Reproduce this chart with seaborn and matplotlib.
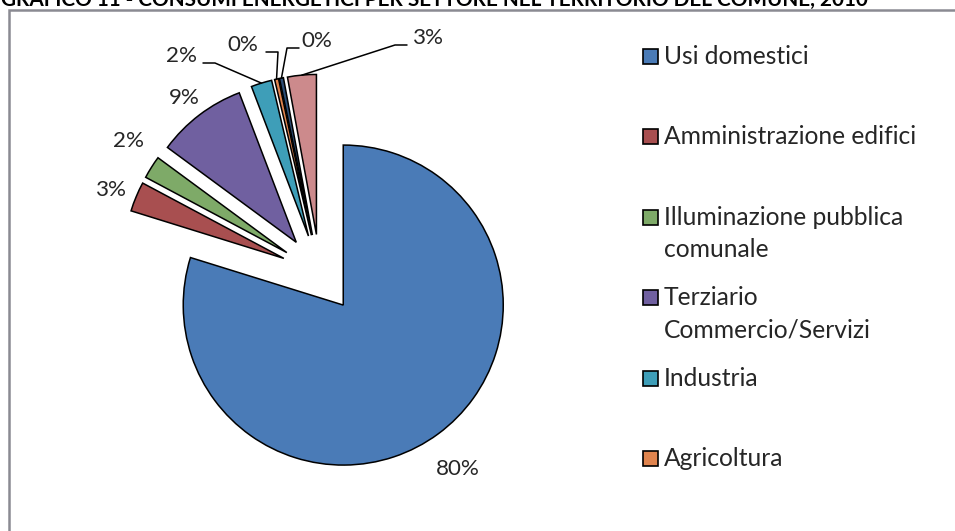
import matplotlib
matplotlib.use("Agg")
import matplotlib.pyplot as plt
import seaborn as sns
import numpy as np
from matplotlib.patches import Rectangle
from matplotlib.lines import Line2D

# ---------------- data ----------------
title = "GRAFICO 11 - CONSUMI ENERGETICI PER SETTORE NEL TERRITORIO DEL COMUNE, 2010"
categories = ["Usi domestici", "Amministrazione edifici",
              "Illuminazione pubblica\ncomunale", "Terziario\nCommercio/Servizi",
              "Industria", "Agricoltura", "Trasporto pubblico", "Trasporto privato"]
values = [79.8, 3.0, 2.3, 9.1, 2.1, 0.4, 0.4, 2.9]
colors = ["#4A7BB7", "#A84F50", "#7EAA68", "#7060A0", "#3E9EB8",
          "#E0844E", "#2C4D75", "#CC8A8C"]
n_legend = 6   # legend entries visible in the original (rest clipped)

# ---------------- style ----------------
sns.set_style("white")
FONT = ["Lato", "DejaVu Sans"]
plt.rcParams["font.family"] = FONT
TXT = "#262626"

W, H = 955, 531
fig = plt.figure(figsize=(W / 100, H / 100), dpi=100)
ax = fig.add_axes([0, 0, 1, 1])
renderer = fig.canvas.get_renderer()

def fit_size(s, target_px, weight="normal", base=16):
    t = fig.text(0, 0, s, fontsize=base, fontweight=weight)
    w = t.get_window_extent(renderer).width
    t.remove()
    return base * target_px / w

LEG_FS = fit_size("Amministrazione edifici", 254)
LAB_FS = fit_size("80%", 44)
TIT_FS = fit_size(title, 872, weight="bold")

# pixel layout helpers: pie centre at (320, 273.5) px, radius 160 px
CX, CY, R = 320.0, 273.5, 160.0
def px(x, y):
    return ((x - CX) / R, (CY - y) / R)

wedges, _ = ax.pie(values, startangle=90, counterclock=False,
                   explode=[0.245] * len(values), colors=colors, radius=1.0,
                   wedgeprops=dict(edgecolor="black", linewidth=1.1))
ax.set_xlim(-CX / R, (W - CX) / R)
ax.set_ylim((CY - H) / R, CY / R)
ax.set_aspect("auto")
ax.axis("off")

# ---------------- data labels ----------------
lab_pos = [(458, 469), (111, 190), (128, 141), (184, 98),
           (181, 56), (243, 45), (317, 41), (428, 38)]
# leader lines: elbow offset (px) from label centre, None for no leader
leader = [None, None, None, None, 34, 35, -30, -33]
total = sum(values)
for w, v, (lx, ly), ld in zip(wedges, values, lab_pos, leader):
    x, y = px(lx, ly)
    ax.text(x, y, f"{v / total * 100:.0f}%", ha="center", va="center",
            fontsize=LAB_FS, color=TXT)
    if ld is not None:
        th = np.deg2rad((w.theta1 + w.theta2) / 2)
        cx, cy = w.center
        ex, ey = cx + w.r * np.cos(th), cy + w.r * np.sin(th)
        x0, y0 = px(lx + ld - np.sign(ld) * 12, ly + 7)
        x1, y1 = px(lx + ld, ly + 7)
        ax.add_line(Line2D([x0, x1, ex], [y0, y1, ey], color="black", lw=1.1))

# ---------------- legend (manual, Excel-like spacing) ----------------
for i in range(n_legend):
    yc = 56.5 + 80.4 * i
    x0, y0 = px(643, yc + 7.5)
    ax.add_patch(Rectangle((x0, y0), 15 / R, 15 / R, facecolor=colors[i],
                           edgecolor="black", lw=1.2))
    for j, line in enumerate(categories[i].split("\n")):
        tx, ty = px(664, yc + 32.5 * j)
        ax.text(tx, ty, line, ha="left", va="center", fontsize=LEG_FS, color=TXT)

# ---------------- frame and clipped title ----------------
fig.patches.append(Rectangle((9 / W, -0.1), 2, 1 - 10 / H + 0.1,
                             transform=fig.transFigure, fill=False,
                             edgecolor="#8A8A92", lw=1.8))
fig.text(1 / W, 1 - 6 / H, title, ha="left", va="baseline",
         fontsize=TIT_FS, fontweight="bold", color="black")

fig.savefig("out.png", dpi=100)
